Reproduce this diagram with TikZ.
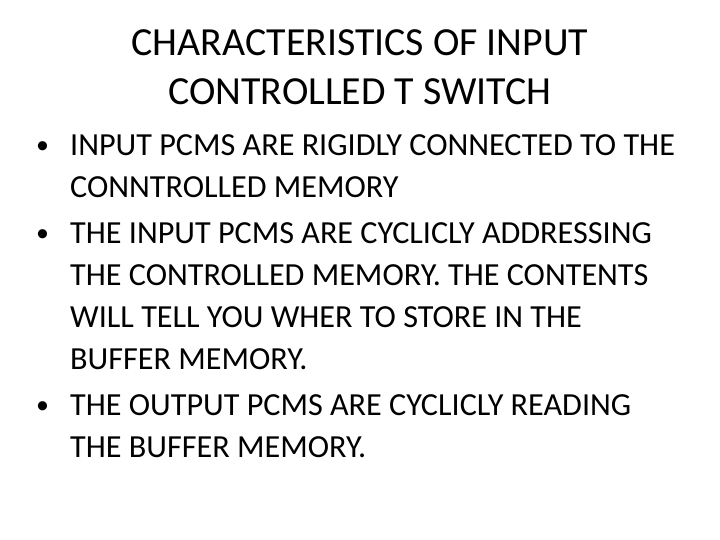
\documentclass[tikz,border=0pt]{standalone}
\usepackage{fontspec}
\setmainfont{Carlito}
\begin{document}
\begin{tikzpicture}[x=1bp,y=1bp,
  ttl/.style={anchor=base,inner sep=0,font=\fontsize{40}{40}\selectfont},
  txt/.style={anchor=base west,inner sep=0,font=\fontsize{32.3}{32.3}\selectfont},
  bul/.style={anchor=base west,inner sep=0,font=\fontsize{26}{26}\selectfont}]
\useasboundingbox (0,0) rectangle (720,540);
\node[ttl] (t1) at (360,540-56) {CHARACTERISTICS OF INPUT};
\node[ttl] (t2) at (360,540-105) {CONTROLLED T SWITCH};
\node[bul] (b1) at (36,540-154) {•};
\node[txt] (l1) at (70,540-156) {INPUT PCMS ARE RIGIDLY CONNECTED TO THE};
\node[txt] (l2) at (70,540-198) {CONNTROLLED MEMORY};
\node[bul] (b2) at (36,540-242) {•};
\node[txt] (l3) at (70,540-244) {THE INPUT PCMS ARE CYCLICLY ADDRESSING};
\node[txt] (l4) at (70,540-286) {THE CONTROLLED MEMORY. THE CONTENTS};
\node[txt] (l5) at (70,540-328) {WILL TELL YOU WHER TO STORE IN THE};
\node[txt] (l6) at (70,540-370) {BUFFER MEMORY.};
\node[bul] (b3) at (36,540-414) {•};
\node[txt] (l7) at (70,540-416) {THE OUTPUT PCMS ARE CYCLICLY READING};
\node[txt] (l8) at (70,540-458) {THE BUFFER MEMORY.};
\end{tikzpicture}
\end{document}
